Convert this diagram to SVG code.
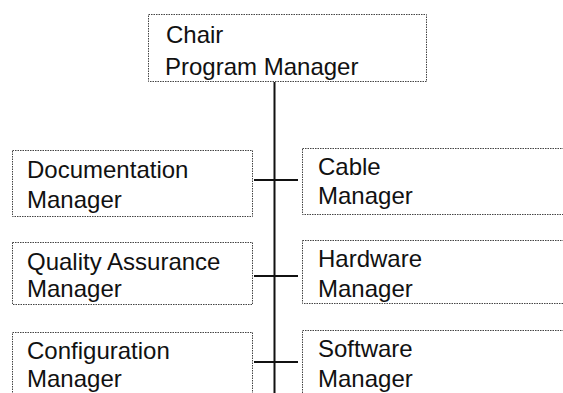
<svg xmlns="http://www.w3.org/2000/svg" width="563" height="393" viewBox="0 0 563 393">
<style>
.box{fill:#fff;stroke:#444;stroke-width:1;stroke-dasharray:1.5 1}
.t{font-family:"Liberation Sans",Arial,sans-serif;font-size:24px;fill:#111}
.c{stroke:#111;stroke-width:2;fill:none}
</style>
<rect width="563" height="393" fill="#fff"/>
<g id="connectors">
<line class="c" x1="274.5" y1="82" x2="274.5" y2="393"/>
<line class="c" x1="254" y1="180" x2="298" y2="180"/>
<line class="c" x1="254" y1="276" x2="298" y2="276"/>
<line class="c" x1="254" y1="362" x2="298" y2="362"/>
</g>
<g id="chair">
<rect class="box" x="148.5" y="14.5" width="278" height="67"/>
<text class="t" x="166" y="43">Chair</text>
<text class="t" x="165" y="75">Program Manager</text>
</g>
<g id="documentation">
<rect class="box" x="12.5" y="150.5" width="240" height="66"/>
<text class="t" x="27" y="178">Documentation</text>
<text class="t" x="27" y="208">Manager</text>
</g>
<g id="quality">
<rect class="box" x="12.5" y="242.5" width="240" height="62"/>
<text class="t" x="27" y="270">Quality Assurance</text>
<text class="t" x="27" y="297">Manager</text>
</g>
<g id="configuration">
<rect class="box" x="12.5" y="332.5" width="240" height="80"/>
<text class="t" x="27" y="359">Configuration</text>
<text class="t" x="27" y="387">Manager</text>
</g>
<g id="cable">
<rect class="box" x="302.5" y="148.5" width="280" height="66"/>
<text class="t" x="318" y="175">Cable</text>
<text class="t" x="318" y="204">Manager</text>
</g>
<g id="hardware">
<rect class="box" x="302.5" y="240.5" width="280" height="63"/>
<text class="t" x="318" y="267">Hardware</text>
<text class="t" x="318" y="297">Manager</text>
</g>
<g id="software">
<rect class="box" x="302.5" y="330.5" width="280" height="80"/>
<text class="t" x="318" y="357">Software</text>
<text class="t" x="318" y="387">Manager</text>
</g>
</svg>
